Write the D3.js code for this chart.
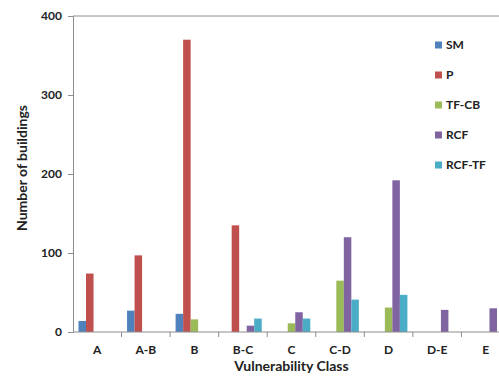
<!DOCTYPE html>
<html>
<head>
<meta charset="utf-8">
<script src="https://cdn.jsdelivr.net/npm/d3@7"></script>
<style>
  body { margin: 0; background: #fff; }
  text { font-family: Lato, "Open Sans", sans-serif; font-weight: bold; fill: #222; }
</style>
</head>
<body>
<div id="chart"></div>
<script>
// vulnerability classes along the x axis
var classes = ["A", "A-B", "B", "B-C", "C", "C-D", "D", "D-E", "E"];
var series = ["SM", "P", "TF-CB", "RCF", "RCF-TF"];

// building counts per class, one array per series
var SM    = [14, 27, 23, 0, 0, 0, 0, 0, 0];
var P     = [74, 97, 370, 135, 0, 0, 0, 0, 0];
var TFCB  = [0, 0, 16, 0, 11, 65, 31, 0, 0];
var RCF   = [0, 0, 0, 8, 25, 120, 192, 28, 30];
var RCFTF = [0, 0, 0, 17, 17, 41, 47, 0, 0];

var yTicks = [0, 100, 200, 300, 400];

var values = [SM, P, TFCB, RCF, RCFTF];
var colors = ["#4f81bd", "#c0504d", "#9bbb59", "#8064a2", "#4bacc6"];

var width = 499, height = 376;
var plotL = 73, plotR = 510, plotT = 16, plotB = 332;

var svg = d3.select("#chart").append("svg")
    .attr("width", width)
    .attr("height", height);

var x = d3.scaleBand().domain(classes).range([plotL, plotR]);
var xs = d3.scaleBand().domain(series).range([5.5, x.bandwidth() - 5.5]);
var y = d3.scaleLinear().domain([0, 400]).range([plotB, plotT]);

// top border line
svg.append("line")
    .attr("x1", plotL).attr("x2", width)
    .attr("y1", y(400)).attr("y2", y(400))
    .attr("stroke", "#8c8c8c");

// bars
series.forEach(function(s, i) {
  svg.append("g").selectAll("rect")
    .data(values[i].map(function(v, j) { return {c: classes[j], v: v}; }))
    .enter().filter(function(d) { return d.v > 0; })
    .append("rect")
    .attr("x", function(d) { return x(d.c) + xs(s); })
    .attr("width", xs.bandwidth())
    .attr("y", function(d) { return y(d.v); })
    .attr("height", function(d) { return plotB - y(d.v); })
    .attr("fill", colors[i]);
});

// y axis
var yAxis = svg.append("g")
    .attr("transform", "translate(" + plotL + ",0)")
    .call(d3.axisLeft(y).tickValues(yTicks).tickSize(5).tickPadding(6));
yAxis.selectAll("path, line").attr("stroke", "#8c8c8c");
yAxis.selectAll("text").style("font-size", "12px").attr("font-family", null);

// x axis with ticks between categories
var xAxisG = svg.append("g").attr("transform", "translate(0," + plotB + ")");
xAxisG.append("line")
    .attr("x1", plotL).attr("x2", width)
    .attr("stroke", "#8c8c8c");
xAxisG.selectAll(".tk")
    .data(classes.slice(1))
    .enter().append("line")
    .attr("x1", function(d) { return x(d); })
    .attr("x2", function(d) { return x(d); })
    .attr("y2", 5)
    .attr("stroke", "#8c8c8c");
xAxisG.selectAll(".lbl")
    .data(classes)
    .enter().append("text")
    .attr("x", function(d) { return x(d) + x.bandwidth() / 2; })
    .attr("y", 22)
    .attr("text-anchor", "middle")
    .style("font-size", "12px")
    .text(function(d) { return d; });

// axis titles
svg.append("text")
    .attr("x", (plotL + plotR) / 2).attr("y", 371)
    .attr("text-anchor", "middle")
    .style("font-size", "14px")
    .text("Vulnerability Class");

svg.append("text")
    .attr("transform", "translate(27,168) rotate(-90)")
    .attr("text-anchor", "middle")
    .style("font-size", "14px")
    .text("Number of buildings");

// legend
var legend = svg.append("g").selectAll("g")
    .data(series)
    .enter().append("g")
    .attr("transform", function(d, i) { return "translate(435," + (45 + i * 30) + ")"; });
legend.append("rect")
    .attr("x", 0).attr("y", -3.5)
    .attr("width", 7).attr("height", 7)
    .attr("fill", function(d, i) { return colors[i]; });
legend.append("text")
    .attr("x", 11).attr("y", 0)
    .attr("dy", "0.35em")
    .style("font-size", "12px")
    .text(function(d) { return d; });
</script>
</body>
</html>
